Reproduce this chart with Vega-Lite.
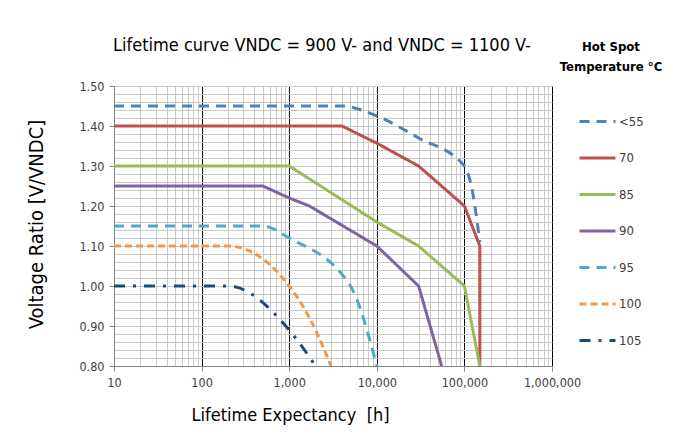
{
  "$schema": "https://vega.github.io/schema/vega-lite/v6.json",
  "width": 438,
  "height": 280,
  "autosize": "none",
  "padding": {"left": 114, "top": 86, "right": 121, "bottom": 82},
  "background": "white",
  "title": {
    "text": "Lifetime curve VNDC = 900 V- and VNDC = 1100 V-",
    "anchor": "start",
    "frame": "group",
    "dx": -1,
    "offset": -14,
    "font": "DejaVu Sans Condensed, sans-serif",
    "fontSize": 18,
    "fontWeight": "normal",
    "color": "black"
  },
  "data": {
    "values": [
      {"s": "<55", "h": 10, "v": 1.45},
      {"s": "<55", "h": 4000, "v": 1.45},
      {"s": "<55", "h": 10000, "v": 1.425},
      {"s": "<55", "h": 30000, "v": 1.37},
      {"s": "<55", "h": 100000, "v": 1.30},
      {"s": "<55", "h": 120000, "v": 1.25},
      {"s": "<55", "h": 150000, "v": 1.11},
      {"s": "70", "h": 10, "v": 1.40},
      {"s": "70", "h": 4000, "v": 1.40},
      {"s": "70", "h": 10000, "v": 1.357},
      {"s": "70", "h": 30000, "v": 1.30},
      {"s": "70", "h": 100000, "v": 1.20},
      {"s": "70", "h": 150000, "v": 1.10},
      {"s": "70", "h": 150000, "v": 0.80},
      {"s": "85", "h": 10, "v": 1.30},
      {"s": "85", "h": 1000, "v": 1.30},
      {"s": "85", "h": 10000, "v": 1.16},
      {"s": "85", "h": 30000, "v": 1.10},
      {"s": "85", "h": 100000, "v": 1.00},
      {"s": "85", "h": 150000, "v": 0.80},
      {"s": "90", "h": 10, "v": 1.25},
      {"s": "90", "h": 500, "v": 1.25},
      {"s": "90", "h": 1000, "v": 1.22},
      {"s": "90", "h": 1700, "v": 1.20},
      {"s": "90", "h": 10000, "v": 1.10},
      {"s": "90", "h": 30000, "v": 1.00},
      {"s": "90", "h": 55000, "v": 0.80},
      {"s": "95", "h": 10, "v": 1.15},
      {"s": "95", "h": 500, "v": 1.15},
      {"s": "95", "h": 1000, "v": 1.12},
      {"s": "95", "h": 5000, "v": 1.00},
      {"s": "95", "h": 10000, "v": 0.80},
      {"s": "100", "h": 10, "v": 1.10},
      {"s": "100", "h": 200, "v": 1.10},
      {"s": "100", "h": 1000, "v": 1.00},
      {"s": "100", "h": 2000, "v": 0.89},
      {"s": "100", "h": 3000, "v": 0.80},
      {"s": "105", "h": 10, "v": 1.00},
      {"s": "105", "h": 200, "v": 1.00},
      {"s": "105", "h": 1000, "v": 0.89},
      {"s": "105", "h": 2000, "v": 0.80}
    ]
  },
  "encoding": {
    "x": {
      "field": "h",
      "type": "quantitative",
      "scale": {"type": "log", "domain": [10, 1000000], "nice": false},
      "axis": {
        "values": [10,20,30,40,50,60,70,80,90,100,200,300,400,500,600,700,800,900,1000,2000,3000,4000,5000,6000,7000,8000,9000,10000,20000,30000,40000,50000,60000,70000,80000,90000,100000,200000,300000,400000,500000,600000,700000,800000,900000,1000000],
        "labelExpr": "abs(log(datum.value)/LN10 - round(log(datum.value)/LN10)) < 0.001 ? format(datum.value, ',') : ''",
        "labelOverlap": false,
        "labelFlush": false,
        "labelFont": "DejaVu Sans Condensed, sans-serif",
        "labelFontSize": 12.5,
        "labelColor": "#404040",
        "labelPadding": 5,
        "grid": true,
        "gridColor": {"condition": {"test": "abs(log(datum.value)/LN10 - round(log(datum.value)/LN10)) < 0.001", "value": "#000000"}, "value": "#c8c8c8"},
        "gridWidth": 1,
        "domainColor": "#868686",
        "tickColor": "#868686",
        "tickSize": 5,
        "tickOpacity": {"condition": {"test": "abs(log(datum.value)/LN10 - round(log(datum.value)/LN10)) < 0.001", "value": 1}, "value": 0},
        "title": "Lifetime Expectancy \u00a0[h]",
        "titleFont": "DejaVu Sans Condensed, sans-serif",
        "titleFontSize": 18,
        "titleFontWeight": "normal",
        "titleColor": "black",
        "titleX": 176,
        "titleY": 49,
        "titleAlign": "center",
        "titleBaseline": "middle"
      }
    },
    "y": {
      "field": "v",
      "type": "quantitative",
      "scale": {"domain": [0.8, 1.5], "nice": false, "zero": false},
      "axis": {
        "values": [0.8,0.82,0.84,0.86,0.88,0.9,0.92,0.94,0.96,0.98,1,1.02,1.04,1.06,1.08,1.1,1.12,1.14,1.16,1.18,1.2,1.22,1.24,1.26,1.28,1.3,1.32,1.34,1.36,1.38,1.4,1.42,1.44,1.46,1.48,1.5],
        "labelExpr": "abs(datum.value*10 - round(datum.value*10)) < 0.001 ? format(datum.value, '.2f') : ''",
        "labelOverlap": false,
        "labelFlush": false,
        "labelFont": "DejaVu Sans Condensed, sans-serif",
        "labelFontSize": 12.5,
        "labelColor": "#404040",
        "labelPadding": 5,
        "grid": true,
        "gridColor": "#c8c8c8",
        "gridWidth": 1,
        "domainColor": "#868686",
        "tickColor": "#868686",
        "tickSize": 5,
        "tickOpacity": {"condition": {"test": "abs(datum.value*10 - round(datum.value*10)) < 0.001", "value": 1}, "value": 0},
        "title": "Voltage Ratio [V/VNDC]",
        "titleFont": "DejaVu Sans Condensed, sans-serif",
        "titleFontSize": 20,
        "titleFontWeight": "normal",
        "titleColor": "black",
        "titleX": -78,
        "titleY": 138,
        "titleAngle": -90,
        "titleAlign": "center",
        "titleBaseline": "middle"
      }
    },
    "color": {
      "field": "s",
      "type": "nominal",
      "scale": {
        "domain": ["<55", "70", "85", "90", "95", "100", "105"],
        "range": ["#4F81BD", "#C0504D", "#9BBB59", "#8064A2", "#4BACC6", "#F79646", "#1F497D"]
      },
      "legend": {
        "orient": "none",
        "legendX": 446,
        "legendY": -45,
        "padding": 0,
        "title": ["Hot Spot", "Temperature °C"],
        "titleFont": "DejaVu Sans Condensed, sans-serif",
        "titleFontSize": 13,
        "titleFontWeight": "bold",
        "titleColor": "black",
        "titleAlign": "center",
        "titleAnchor": "middle",
        "titleLineHeight": 20,
        "titlePadding": 28,
        "symbolType": "stroke",
        "symbolSize": 1296,
        "symbolStrokeWidth": 3,
        "symbolOffset": 0,
        "labelFont": "DejaVu Sans Condensed, sans-serif",
        "labelFontSize": 13,
        "labelColor": "#404040",
        "labelOffset": 2,
        "rowPadding": 9.5
      }
    },
    "strokeDash": {
      "field": "s",
      "type": "nominal",
      "scale": {
        "domain": ["<55", "70", "85", "90", "95", "100", "105"],
        "range": [[10, 7], [1, 0], [1, 0], [1, 0], [10, 7], [7, 4], [11, 8, 3, 8]]
      }
    }
  },
  "layer": [
    {
      "transform": [{"filter": "indexof(['70','85','90'], datum.s) >= 0"}],
      "mark": {"type": "line", "strokeWidth": 3, "interpolate": "linear", "clip": true}
    },
    {
      "transform": [{"filter": "indexof(['<55','95','100','105'], datum.s) >= 0"}],
      "mark": {"type": "line", "strokeWidth": 3, "interpolate": "monotone", "clip": true}
    }
  ],
  "config": {
    "view": {"stroke": null}
  }
}
